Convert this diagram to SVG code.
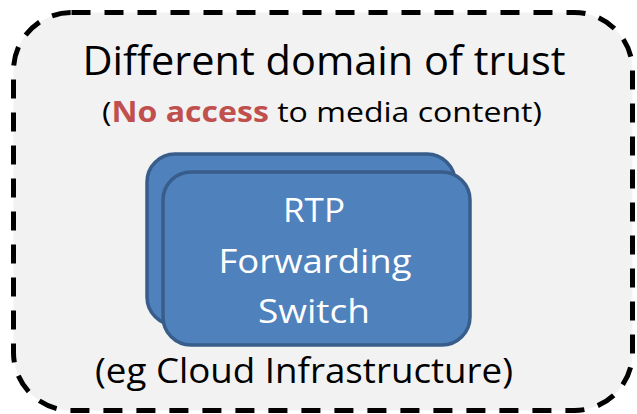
<svg xmlns="http://www.w3.org/2000/svg" width="637" height="414" viewBox="0 0 637 414">
<style>
.t{font-family:"Open Sans","Noto Sans","Liberation Sans",sans-serif;}
.blk{fill:#000;}
.wht{fill:#fff;}
.red{fill:#C0504D;font-weight:bold;}
.box{fill:#4F81BD;stroke:#385D8A;stroke-width:3.5;}
</style>
<rect width="637" height="414" fill="#fff"/>
<g id="domain">
<rect x="13.5" y="12.5" width="619" height="398" rx="58" ry="58" fill="#F2F2F2" stroke="#000" stroke-width="5" stroke-dasharray="19 14"/>
<text class="t blk" x="324" y="75" font-size="41" text-anchor="middle" textLength="483" lengthAdjust="spacingAndGlyphs">Different domain of trust</text>
<text class="t blk" x="322" y="122" font-size="28" text-anchor="middle" textLength="440" lengthAdjust="spacingAndGlyphs">(<tspan class="red">No access</tspan> to media content)</text>
<text class="t blk" x="304" y="383" font-size="35" text-anchor="middle" textLength="418" lengthAdjust="spacingAndGlyphs">(eg Cloud Infrastructure)</text>
</g>
<g id="switch">
<rect class="box" x="147" y="154" width="308" height="171" rx="28" ry="28"/>
<rect class="box" x="163" y="172" width="307" height="173" rx="28" ry="28"/>
<text class="t wht" x="314" y="222" font-size="32" text-anchor="middle" textLength="62" lengthAdjust="spacingAndGlyphs">RTP</text>
<text class="t wht" x="315" y="273" font-size="32" text-anchor="middle" textLength="193" lengthAdjust="spacingAndGlyphs">Forwarding</text>
<text class="t wht" x="314" y="323" font-size="32" text-anchor="middle" textLength="112" lengthAdjust="spacingAndGlyphs">Switch</text>
</g>
<g id="connectors"/>
</svg>
